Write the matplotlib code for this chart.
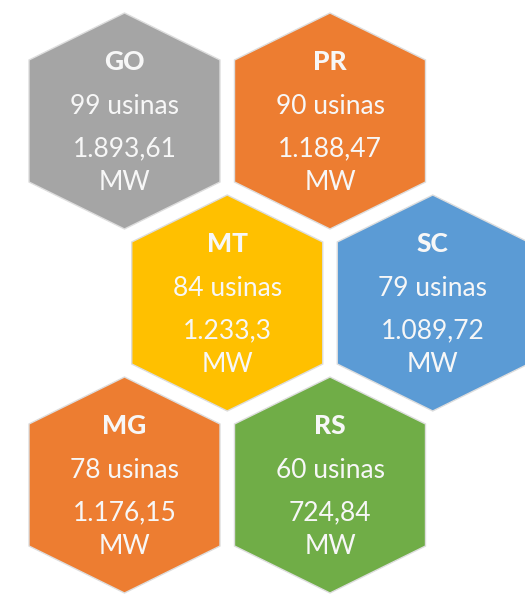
import numpy as np
import matplotlib.pyplot as plt
from matplotlib.patches import Polygon

# dados por estado
estados = ['GO', 'PR', 'MT', 'SC', 'MG', 'RS']
usinas = [99, 90, 84, 79, 78, 60]
potencia_mw = ['1.893,61', '1.188,47', '1.233,3', '1.089,72', '1.176,15', '724,84']
cores = ['#A5A5A5', '#ED7D31', '#FFC000', '#5B9BD5', '#ED7D31', '#70AD47']

W, H = 525, 599
fig = plt.figure(figsize=(W / 100, H / 100), dpi=100)
ax = fig.add_axes([0, 0, 1, 1])
ax.set_xlim(0, W)
ax.set_ylim(H, 0)
ax.axis('off')

# geometria do favo (pixels)
half_w = 95.5     # meia largura
r_top = 108       # centro -> vertice superior
half_side = 61    # meia altura do lado vertical
col_step = 205.5
row_step = 182
x0, y0 = 124.5, 121

def hexagono(cx, cy):
    return [(cx, cy - r_top), (cx + half_w, cy - half_side), (cx + half_w, cy + half_side),
            (cx, cy + r_top), (cx - half_w, cy + half_side), (cx - half_w, cy - half_side)]

txt_kw = dict(ha='center', va='center', color='#F7F7F7', family=['Lato', 'DejaVu Sans'])

for i, est in enumerate(estados):
    row, col = divmod(i, 2)
    cx = x0 + col * col_step + (col_step / 2 if row == 1 else 0)
    cy = y0 + row * row_step
    ax.add_patch(Polygon(hexagono(cx, cy), closed=True, facecolor=cores[i],
                         edgecolor='#DDDDDD', linewidth=1.0))
    ax.text(cx, cy - 59, est, fontsize=19, fontweight='black', **txt_kw)
    ax.text(cx, cy - 14, f'{usinas[i]} usinas', fontsize=19, **txt_kw)
    ax.text(cx, cy + 28, potencia_mw[i], fontsize=19, **txt_kw)
    ax.text(cx, cy + 61, 'MW', fontsize=19, **txt_kw)

fig.savefig('out.png', dpi=100, facecolor='white')
